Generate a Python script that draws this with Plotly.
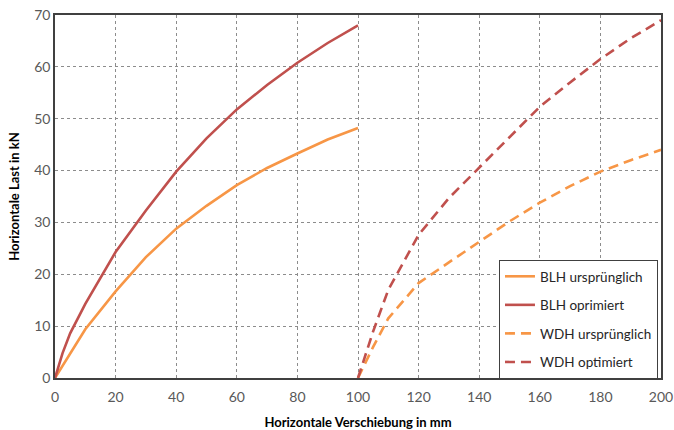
import plotly.graph_objects as go

# BLH (solid) series
blh_x = [0, 2.5, 5, 10, 20, 30, 40, 50, 60, 70, 80, 90, 100]
blh_urspr = [0, 2.4, 4.7, 9.4, 16.7, 23.3, 28.8, 33.2, 37.2, 40.5, 43.3, 46.0, 48.2]
blh_opt = [0, 4.8, 8.6, 14.3, 24.3, 32.3, 39.8, 46.2, 51.8, 56.5, 60.8, 64.6, 68.0]

# WDH (dashed) series
wdh_x = [100, 105, 110, 120, 130, 140, 150, 160, 170, 180, 190, 200]
wdh_urspr = [0, 6.0, 11.5, 18.3, 22.3, 26.3, 30.2, 33.8, 37.0, 39.8, 42.0, 44.0]
wdh_opt = [0, 9.0, 17.0, 27.6, 34.7, 40.5, 46.5, 52.3, 57.0, 61.5, 65.5, 69.0]

names = ["BLH ursprünglich", "BLH oprimiert", "WDH ursprünglich", "WDH optimiert"]
orange = "#F79646"
red = "#C0504D"

fig = go.Figure()
series = [
    (blh_x, blh_urspr, names[0], orange, "solid"),
    (blh_x, blh_opt, names[1], red, "solid"),
    (wdh_x, wdh_urspr, names[2], orange, "10px,6px"),
    (wdh_x, wdh_opt, names[3], red, "10px,6px"),
]
for i, (x, y, n, c, d) in enumerate(series):
    fig.add_trace(go.Scatter(
        x=x, y=y, name=n, mode="lines", legendgroup=f"g{i}",
        line=dict(color=c, width=2.6, dash=d),
    ))

axis_common = dict(
    showgrid=True, gridcolor="#8c8c8c", griddash="dot", gridwidth=1,
    showline=True, linecolor="#404040", linewidth=1.5, mirror=True,
    ticks="", zeroline=False, automargin=False, ticklabeloverflow="allow",
    tickfont=dict(family="Lato, sans-serif", size=14, color="#595959"),
)

fig.update_layout(
    width=674, height=430,
    margin=dict(l=55, r=13, t=15, b=52),
    paper_bgcolor="white", plot_bgcolor="white",
    font=dict(family="Lato, sans-serif", color="#262626"),
    xaxis=dict(range=[0, 200], dtick=20, tick0=0, ticklabelstandoff=5,
               title=dict(text="<b>Horizontale Verschiebung in mm</b>",
                          font=dict(size=13, color="black"), standoff=14),
               **axis_common),
    yaxis=dict(range=[0, 70], dtick=10, tick0=0,
               title=dict(text="<b>Horizontale Last in kN</b>",
                          font=dict(size=13, color="black"), standoff=12),
               **axis_common),
    legend=dict(
        x=0.995, y=0.325, xanchor="right", yanchor="top",
        bgcolor="white", bordercolor="#404040", borderwidth=1,
        font=dict(size=13.5, color="#262626"), itemwidth=30,
        tracegroupgap=8, traceorder="grouped",
    ),
    showlegend=True,
)

fig.write_html(
    "out.html",
    config={"displayModeBar": False},
    post_script="document.body.style.margin='0';document.body.style.overflow='hidden';",
)
